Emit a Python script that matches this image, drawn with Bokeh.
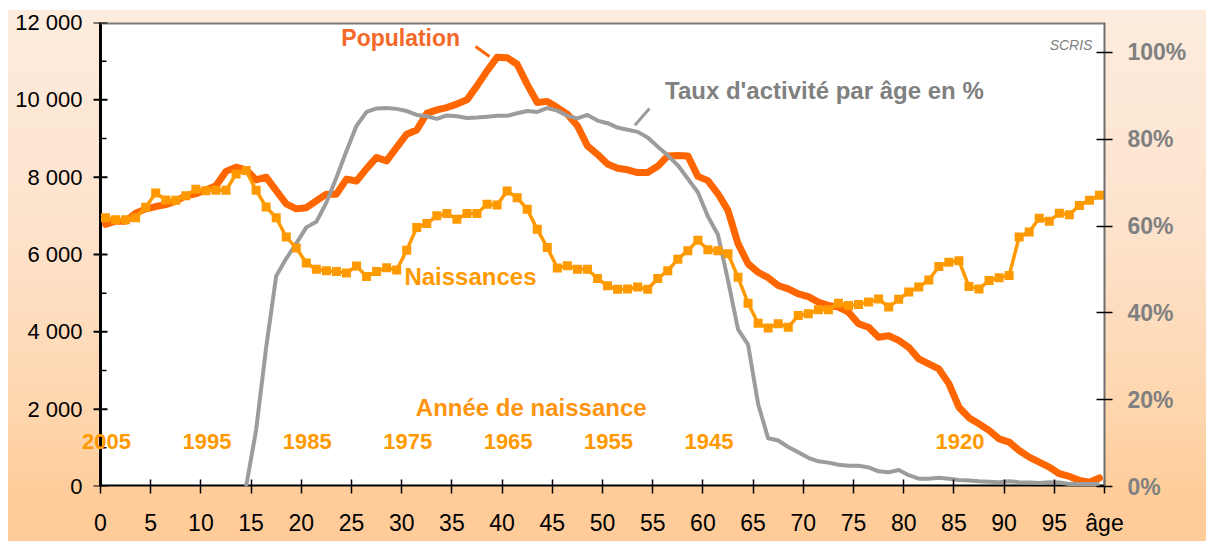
from bokeh.plotting import figure
from bokeh.models import Range1d, LinearAxis, FixedTicker, Label
from bokeh.embed import file_html
from bokeh.resources import INLINE

# ---------------- data ----------------
ages = list(range(100))

population = [6780, 6860, 6860, 7070, 7180, 7240, 7290, 7380, 7520, 7570,
              7670, 7780, 8150, 8260, 8190, 7930, 8000, 7650, 7310, 7180,
              7210, 7390, 7560, 7560, 7950, 7900, 8220, 8510, 8420, 8770,
              9110, 9220, 9650, 9740, 9800, 9890, 10000, 10360, 10750, 11100,
              11090, 10920, 10400, 9930, 9960, 9800, 9630, 9330, 8810, 8590,
              8340, 8230, 8190, 8120, 8120, 8280, 8550, 8560, 8550, 8020,
              7910, 7570, 7140, 6280, 5760, 5540, 5400, 5200, 5110, 4980,
              4910, 4770, 4680, 4640, 4510, 4210, 4120, 3860, 3900, 3780,
              3600, 3300, 3170, 3040, 2660, 2050, 1780, 1620, 1450, 1230,
              1150, 930, 760, 630, 500, 330, 260, 160, 110, 220]

naissances = [6950, 6900, 6900, 6950, 7220, 7590, 7410, 7400, 7520, 7690,
              7650, 7660, 7660, 8080, 8170, 7660, 7230, 6950, 6450, 6170,
              5780, 5620, 5580, 5560, 5520, 5700, 5430, 5560, 5660, 5600,
              6110, 6700, 6800, 7000, 7060, 6910, 7060, 7060, 7300, 7280,
              7640, 7470, 7170, 6650, 6180, 5650, 5710, 5620, 5620, 5380,
              5190, 5100, 5110, 5160, 5100, 5380, 5580, 5880, 6100, 6370,
              6120, 6100, 6020, 5410, 4740, 4220, 4100, 4210, 4120, 4420,
              4470, 4570, 4570, 4740, 4680, 4710, 4770, 4850, 4640, 4840,
              5030, 5160, 5340, 5690, 5800, 5840, 5170, 5110, 5330, 5400,
              5460, 6450, 6580, 6940, 6860, 7070, 7030, 7270, 7400, 7530]

activity_ages = list(range(14, 100))
activite = [0, 13, 32, 48.5, 52.5, 56, 59.7, 61, 65.4, 71.2,
            77.3, 83.1, 86.3, 87.1, 87.2, 87.0, 86.5, 85.6, 85.3, 84.7,
            85.5, 85.3, 84.9, 85.0, 85.2, 85.4, 85.4, 86.0, 86.5, 86.3,
            87.2, 86.6, 85.4, 84.8, 85.6, 84.3, 83.7, 82.7, 82.2, 81.7,
            80.4, 78.3, 76.3, 74.0, 70.9, 67.8, 62.2, 58.0, 47.5, 36.2,
            32.7, 19.0, 11.1, 10.6, 9.1, 7.9, 6.6, 5.8, 5.5, 5.0,
            4.8, 4.8, 4.4, 3.5, 3.3, 3.8, 2.6, 1.8, 1.8, 2.0,
            1.8, 1.5, 1.4, 1.2, 1.1, 1.0, 1.2, 1.0, 0.9, 0.8,
            1.0, 0.9, 0.6, 0.6, 0.6, 0.6]

x_ticks = list(range(0, 101, 5))
x_tick_labels = [str(t) for t in range(0, 100, 5)] + ["âge"]
y_ticks = [0, 2000, 4000, 6000, 8000, 10000, 12000]
y_tick_labels = ["0", "2 000", "4 000", "6 000", "8 000", "10 000", "12 000"]
pct_ticks = [0, 20, 40, 60, 80, 100]
pct_tick_labels = ["0%", "20%", "40%", "60%", "80%", "100%"]
year_labels = [2005, 1995, 1985, 1975, 1965, 1955, 1945, 1920]

# ---------------- layout / style ----------------
FONT = "Liberation Sans"
C_POP = "#FF6600"
C_NAIS = "#FF9900"
C_ACT = "#9C9C9C"
C_GREY_TXT = "#808080"

W, H = 1206, 541
AXIS_PX = 100          # pixel where the age axis starts (age 0)
BL, BR, BT, BB = 78, 102, 22, 55   # frame starts a bit left of the axis so labels may overhang
X1, Y0, Y1 = 100, 0, 12000
px_per_unit = (W - BR - AXIS_PX) / X1
X0 = -(AXIS_PX - BL) / px_per_unit
ux = 1.0 / px_per_unit                  # one pixel in x data units

p = figure(width=W, height=H, output_backend="svg", toolbar_location=None,
           x_range=Range1d(X0, X1), y_range=Range1d(Y0, Y1),
           min_border_left=BL, min_border_right=BR, min_border_top=BT,
           min_border_bottom=BB)
p.extra_y_ranges = {"pct": Range1d(0, 106.9)}
p.xgrid.visible = False
p.ygrid.visible = False
p.background_fill_color = None
p.border_fill_color = None
p.outline_line_color = None
p.styles = {
    "background-color": "white",
    "background-image": "linear-gradient(to bottom, #FDECDE 0%, #FDE3CD 40%, #FED6AE 75%, #FFCC99 92%)",
    "background-repeat": "no-repeat",
    "background-position": "8px 10px",
    "background-size": "1198px 531px",
}

# white plotting area (from age 0 to the right edge)
p.quad(left=[0], right=[X1], bottom=[Y0], top=[Y1], fill_color="white",
       line_color=None, level="underlay")

# bottom axis (line drawn manually so it starts at age 0)
xa = p.xaxis[0]
xa.ticker = FixedTicker(ticks=x_ticks)
xa.major_label_overrides = {t: l for t, l in zip(x_ticks, x_tick_labels)}
xa.axis_line_color = None
xa.major_tick_in = 7
xa.major_tick_out = 7
xa.major_tick_line_color = "black"
xa.major_tick_line_width = 1.5
xa.minor_tick_line_color = None
xa.major_label_standoff = 16
xa.major_label_text_font = FONT
xa.major_label_text_font_size = "23px"
xa.major_label_text_color = "black"

# left axis: labels only (line and ticks drawn at age 0)
ya = p.yaxis[0]
ya.ticker = FixedTicker(ticks=y_ticks)
ya.major_label_overrides = {t: l for t, l in zip(y_ticks, y_tick_labels)}
ya.axis_line_color = None
ya.major_tick_line_color = None
ya.minor_tick_line_color = None
ya.major_tick_in = 0
ya.major_tick_out = 0
ya.minor_tick_in = 0
ya.minor_tick_out = 0
ya.major_label_standoff = -4
ya.major_label_text_font = FONT
ya.major_label_text_font_size = "22px"
ya.major_label_text_color = "black"

# right axis
ra = LinearAxis(y_range_name="pct", ticker=FixedTicker(ticks=pct_ticks))
ra.major_label_overrides = {t: l for t, l in zip(pct_ticks, pct_tick_labels)}
ra.axis_line_color = "#6E6E6E"
ra.axis_line_width = 2
ra.major_tick_in = 8
ra.major_tick_out = 8
ra.major_tick_line_color = "black"
ra.major_tick_line_width = 1.5
ra.minor_tick_line_color = None
ra.major_label_standoff = 15
ra.major_label_text_font = FONT
ra.major_label_text_font_size = "23px"
ra.major_label_text_font_style = "bold"
ra.major_label_text_color = C_GREY_TXT
p.add_layout(ra, "right")

# manual axis lines / frame border
p.segment(x0=[0], y0=[Y0], x1=[0], y1=[Y1], line_color="black", line_width=3)
p.segment(x0=[0], y0=[Y0], x1=[X1], y1=[Y0], line_color="black", line_width=4)
p.segment(x0=[0], y0=[Y1], x1=[X1], y1=[Y1], line_color="#7A7A7A", line_width=4)
p.segment(x0=[-7 * ux] * len(y_ticks), y0=y_ticks, x1=[7 * ux] * len(y_ticks), y1=y_ticks,
          line_color="black", line_width=2)
minor = [t + 1000 for t in y_ticks[:-1]]
p.segment(x0=[0] * len(minor), y0=minor, x1=[6 * ux] * len(minor), y1=minor,
          line_color="black", line_width=1.5)

# ---------------- series ----------------
xs = [a + 0.5 for a in ages]
xs_act = [a + 0.5 for a in activity_ages]

p.line(xs, population, line_color=C_POP, line_width=7, line_join="round", line_cap="round")
p.line(xs_act, activite, y_range_name="pct", line_color=C_ACT, line_width=4, line_join="round")
p.line(xs, naissances, line_color=C_NAIS, line_width=3.5, line_join="round")
p.scatter(xs, naissances, marker="square", size=9, fill_color=C_NAIS, line_color=None)

# leader lines for labels
p.segment(x0=[37.35], y0=[11378], x1=[38.75], y1=[11120], line_color=C_POP, line_width=3)
p.segment(x0=[54.68], y0=[9775], x1=[53.22], y1=[9343], line_color=C_ACT, line_width=3)

# ---------------- annotations ----------------
def lab(x, y, text, color, size, style="bold", align="center"):
    p.add_layout(Label(x=x, y=y, text=text, text_color=color, text_font=FONT,
                       text_font_size=size, text_font_style=style,
                       text_align=align, text_baseline="middle"))

lab(29.9, 11593, "Population", "#F4692A", "23px")
lab(72.1, 10248, "Taux d'activité par âge en %", C_GREY_TXT, "24px")
lab(36.85, 5430, "Naissances", C_NAIS, "24px")
lab(42.9, 2051, "Année de naissance", "#FF9410", "24px")
lab(98.8, 11412, "SCRIS", C_GREY_TXT, "14px", style="italic", align="right")

for yr in year_labels:
    lab(2005 - yr + 0.6, 1174, str(yr), C_NAIS, "22px")

open("out.html", "w").write(file_html(p, INLINE))
